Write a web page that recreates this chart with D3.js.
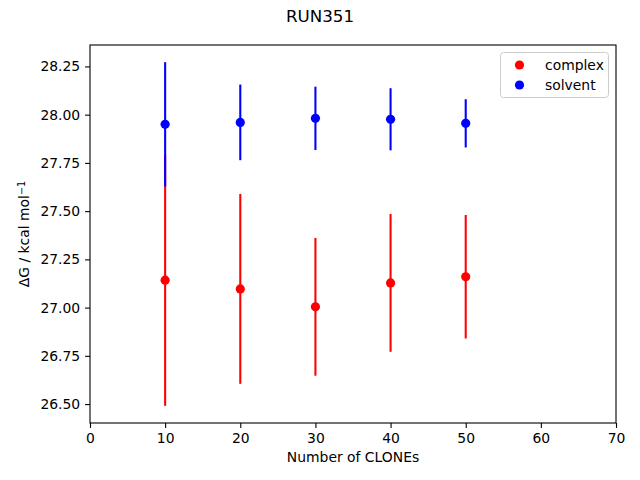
<!DOCTYPE html>
<html>
<head>
<meta charset="utf-8">
<script src="https://cdn.jsdelivr.net/npm/d3@7"></script>
<style>
  body { margin: 0; background: #fff; }
  text { font-family: "DejaVu Sans", sans-serif; fill: #000; }
</style>
</head>
<body>
<div id="chart"></div>
<script>
// values
var clones = [10, 20, 30, 40, 50];
var complexMean = [27.142, 27.097, 27.004, 27.128, 27.160];
var complexErr = [0.651, 0.492, 0.357, 0.357, 0.320];
var solventMean = [27.950, 27.960, 27.981, 27.976, 27.955];
var solventErr = [0.322, 0.196, 0.164, 0.161, 0.125];
var xTicks = [0, 10, 20, 30, 40, 50, 60, 70];
var yTicks = [26.50, 26.75, 27.00, 27.25, 27.50, 27.75, 28.00, 28.25];

var w = 640, h = 480;
var mLeft = 90, mRight = 616, mTop = 45, mBottom = 423;

var svg = d3.select("#chart").append("svg")
  .attr("width", w)
  .attr("height", h);

var x = d3.scaleLinear().domain([0, 70]).range([mLeft, mRight]);

// matplotlib style 5% margin around data incl. error bars
var lo = d3.min(complexMean.map(function(d, i) { return d - complexErr[i]; }));
var hi = d3.max(solventMean.map(function(d, i) { return d + solventErr[i]; }));
var pad = (hi - lo) * 0.05;
var y = d3.scaleLinear().domain([lo - pad, hi + pad]).range([mBottom, mTop]);

var xAxis = d3.axisBottom(x).tickValues(xTicks).tickSize(4.9).tickPadding(4.9).tickFormat(d3.format("d"));
var yAxis = d3.axisLeft(y).tickValues(yTicks).tickSize(4.9).tickPadding(4.9).tickFormat(d3.format(".2f"));

var gx = svg.append("g").attr("transform", "translate(0," + mBottom + ")").call(xAxis);
var gy = svg.append("g").attr("transform", "translate(" + mLeft + ",0)").call(yAxis);
[gx, gy].forEach(function(g) {
  g.select(".domain").remove();
  g.selectAll("line").attr("stroke", "#000").attr("stroke-width", 1.1);
  g.selectAll("text").attr("font-size", "13.9px").attr("font-family", "DejaVu Sans").attr("fill", "#000");
});

function series(mean, err, color) {
  var g = svg.append("g");
  g.selectAll("line")
    .data(mean)
    .enter().append("line")
      .attr("x1", function(d, i) { return x(clones[i]); })
      .attr("x2", function(d, i) { return x(clones[i]); })
      .attr("y1", function(d, i) { return y(d - err[i]); })
      .attr("y2", function(d, i) { return y(d + err[i]); })
      .attr("stroke", color)
      .attr("stroke-width", 2.08);
  g.selectAll("circle")
    .data(mean)
    .enter().append("circle")
      .attr("cx", function(d, i) { return x(clones[i]); })
      .attr("cy", function(d) { return y(d); })
      .attr("r", 4.6)
      .attr("fill", color);
}
series(complexMean, complexErr, "#ff0000");
series(solventMean, solventErr, "#0000ff");

// frame
svg.append("rect")
  .attr("x", mLeft).attr("y", mTop)
  .attr("width", mRight - mLeft).attr("height", mBottom - mTop)
  .attr("fill", "none").attr("stroke", "#000").attr("stroke-width", 1.1);

// legend
var leg = svg.append("g");
leg.append("rect")
  .attr("x", 500.5).attr("y", 52.5).attr("width", 108).attr("height", 45)
  .attr("rx", 3).attr("fill", "#fff").attr("fill-opacity", 0.8)
  .attr("stroke", "#ccc").attr("stroke-width", 1);
var legItems = [["complex", "#ff0000"], ["solvent", "#0000ff"]];
legItems.forEach(function(d, i) {
  leg.append("circle").attr("cx", 519.5).attr("cy", 65 + i * 20).attr("r", 4.6).attr("fill", d[1]);
  leg.append("text").attr("x", 545).attr("y", 65 + i * 20).attr("dy", "0.35em")
    .attr("font-size", "13.9px").text(d[0]);
});

// titles
svg.append("text").attr("x", 320).attr("y", 22).attr("text-anchor", "middle")
  .attr("font-size", "16.7px").text("RUN351");
svg.append("text").attr("x", (mLeft + mRight) / 2).attr("y", 462).attr("text-anchor", "middle")
  .attr("font-size", "13.9px").text("Number of CLONEs");
var yl = svg.append("text")
  .attr("transform", "translate(29," + ((mTop + mBottom) / 2) + ") rotate(-90)")
  .attr("text-anchor", "middle").attr("font-size", "13.9px");
yl.append("tspan").text("ΔG / kcal mol");
yl.append("tspan").attr("dy", "-0.45em").attr("font-size", "9.7px").text("−1");
</script>
</body>
</html>
